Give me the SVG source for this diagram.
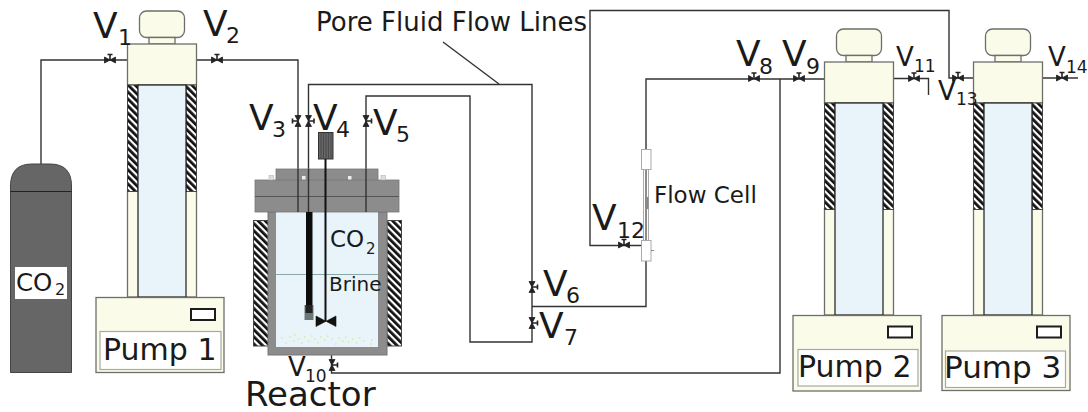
<svg xmlns="http://www.w3.org/2000/svg" xmlns:xlink="http://www.w3.org/1999/xlink" width="1088" height="412" viewBox="0 0 1088 412">
<style>
text{font-family:"DejaVu Sans",Verdana,sans-serif;fill:#1a1a1a}
.b{font-size:36px}.s{font-size:22px}.b2{font-size:26px}.s2{font-size:17px}
.line{fill:none;stroke:#333;stroke-width:1.4}
.cream{fill:#fafbe9;stroke:#6e6e6a;stroke-width:1.3}
.blue{fill:#e8f4fa;stroke:#1c1c1c;stroke-width:1.2}
.hatch{fill:url(#h);stroke:#444;stroke-width:1}
.lab{fill:#fff;stroke:#a8a8a0;stroke-width:1.2}
.disp{fill:#fff;stroke:#1c1c1c;stroke-width:2}
</style>
<defs>
<pattern id="h" width="5" height="5" patternUnits="userSpaceOnUse" patternTransform="rotate(-45)">
<rect width="5" height="5" fill="#fff"/><rect width="2.800" height="5" fill="#111"/>
</pattern>
<g id="valve"><path d="M-5.500 -3V3L5.500 -3V3Z" fill="#222" stroke="#222" stroke-width=".8"/><path d="M0 0V-5.500M-2.500 -5.500H2.500" fill="none" stroke="#222" stroke-width="1.600"/></g>
<g id="pump">
<rect class="cream" x="12" y="-33" width="45" height="26.500" rx="7"/>
<rect class="cream" x="21.500" y="-6.500" width="26" height="6.500"/>
<rect class="cream" x="0" y="0" width="69" height="41"/>
<rect class="cream" x="0" y="147" width="69" height="106"/>
<rect class="hatch" x="0" y="41" width="10.500" height="106.500"/>
<rect class="hatch" x="58.500" y="41" width="10.500" height="106.500"/>
<rect class="blue" x="10.500" y="41" width="48" height="212"/>
</g>
</defs>

<g id="connectors">
<path class="line" d="M41 164V60H127.500"/>
<path class="line" d="M196.500 60H298V212"/>
<path class="line" d="M308.500 212V84.500H532V342H470V96H366V212"/>
<path class="line" d="M443 42L499 84"/>
<path class="line" d="M532 306.500H646V79H824.500"/>
<path class="line" d="M780 79V373H331.500V355"/>
<path class="line" d="M651 245.500H590V10.500H949V78H973"/>
<path class="line" d="M893.500 78.500H928.500V95"/>
<path class="line" d="M1043 78H1078"/>
</g>

<g id="valves">
<use xlink:href="#valve" transform="translate(110 60)"/>
<use xlink:href="#valve" transform="translate(217 60)"/>
<use xlink:href="#valve" transform="translate(298 121) rotate(-90)"/>
<use xlink:href="#valve" transform="translate(308.500 121) rotate(90)"/>
<use xlink:href="#valve" transform="translate(366 121) rotate(90)"/>
<use xlink:href="#valve" transform="translate(532 287) rotate(90)"/>
<use xlink:href="#valve" transform="translate(532 323) rotate(90)"/>
<use xlink:href="#valve" transform="translate(754 78.500)"/>
<use xlink:href="#valve" transform="translate(799 78.500)"/>
<use xlink:href="#valve" transform="translate(332 365) rotate(90)"/>
<use xlink:href="#valve" transform="translate(914 78.500)"/>
<use xlink:href="#valve" transform="translate(624 245)"/>
<use xlink:href="#valve" transform="translate(958 78)"/>
<use xlink:href="#valve" transform="translate(1062 78)"/>
</g>

<g id="cylinder">
<path d="M10.500 372.500V186Q10.500 164 32 164H50Q71.500 164 71.500 186V372.500Z" fill="#666" stroke="#444" stroke-width="1"/>
<path d="M10.500 191.500H71.500" stroke="#222" stroke-width="1.200"/>
<rect x="15" y="267" width="52" height="32" fill="#fff"/>
<text x="16" y="291" font-size="24.500">CO<tspan x="55" y="295" font-size="16">2</tspan></text>
</g>

<g id="pump1">
<use xlink:href="#pump" transform="translate(127.500 44)"/>
<rect class="cream" x="96" y="297.500" width="128" height="75"/>
<rect class="disp" x="191" y="309" width="24" height="11"/>
<rect class="lab" x="100" y="331.500" width="121" height="38"/>
<text x="103" y="360" font-size="30">Pump 1</text>
</g>

<g id="reactor">
<rect x="253.500" y="220.500" width="15" height="125.500" class="hatch"/>
<rect x="387" y="220.500" width="14.500" height="125.500" class="hatch"/>
<rect x="268" y="212" width="119" height="143" fill="#8c8c8c" stroke="#777"/>
<rect x="276" y="212" width="102" height="135" fill="#e8f4fa"/>
<path d="M276 274.500H378" stroke="#8aa8a8" stroke-width="1"/>
<rect x="276" y="169" width="102" height="12" fill="#8c8c8c" stroke="#777" stroke-width=".8"/>
<rect x="255" y="180" width="144" height="32" fill="#8c8c8c" stroke="#777" stroke-width=".8"/>
<path d="M255 196.500H399" stroke="#555" stroke-width="1"/>
<rect x="269" y="175.500" width="4.500" height="4.500" fill="#ddd" stroke="#aaa" stroke-width=".5"/>
<rect x="381" y="175.500" width="4.500" height="4.500" fill="#ddd" stroke="#aaa" stroke-width=".5"/>
<rect x="302" y="176" width="3.500" height="3.500" fill="#eee"/>
<rect x="348" y="176" width="3.500" height="3.500" fill="#eee"/>
<path d="M298 169V212M308.500 169V212M366 169V212" stroke="#333" stroke-width="1.400"/>
<rect x="306" y="212" width="6.500" height="93" fill="#0c0c0c"/>
<rect x="304.500" y="305" width="9" height="15" fill="#6c7878"/>
<rect x="305.500" y="305" width="7" height="8" fill="#222"/>
<rect x="318.500" y="132.500" width="14.500" height="26.500" fill="#666" stroke="#333" stroke-width="1"/>
<path d="M321 133V159M323.500 133V159M326 133V159M328.500 133V159M331 133V159" stroke="#444" stroke-width=".8"/>
<path d="M325.500 159V321" stroke="#111" stroke-width="2"/>
<path d="M316 316V326.500L336 316V326.500Z" fill="#111" stroke="#111" stroke-width=".6"/>
<path d="M281 338h1.500M285 343h1.500M289 337h1.500M293 341h1.500M294 335h1.500M298 339h1.500M301 343h1.500M304 337h1.500M308 341h1.500M311 336h1.500M314 339h1.500M317 343h1.500M320 337h1.500M324 340h1.500M327 336h1.500M331 339h1.500M335 344h1.500M338 338h1.500M342 341h1.500M345 337h1.500M348 342h1.500M352 339h1.500M356 343h1.500M359 338h1.500M363 341h1.500M371 340h1.500M370 344h1.500" stroke="#d5e070" stroke-width="1.200"/>
<text x="330" y="247" font-size="23">CO<tspan x="366" y="254" font-size="15">2</tspan></text>
<text x="329" y="291" font-size="20">Brine</text>
<text x="245" y="406" font-size="34">Reactor</text>
</g>

<g id="flow-cell">
<path d="M643.500 169V240M646 169V240M648.500 169V240" stroke="#aaa" stroke-width="1"/>
<rect x="645" y="197" width="3.500" height="12" fill="#888"/>
<rect x="641.500" y="149.500" width="9.500" height="20" fill="#fff" stroke="#aaa"/>
<rect x="641.500" y="240.500" width="9.500" height="20.500" fill="#fff" stroke="#aaa"/>
<path d="M651 250.500H654" stroke="#888"/>
<text x="654" y="203" font-size="23">Flow Cell</text>
</g>

<g id="pump2">
<use xlink:href="#pump" transform="translate(824.500 62)"/>
<rect class="cream" x="793" y="315.500" width="128" height="75.500"/>
<rect class="disp" x="888" y="326.500" width="24" height="11"/>
<rect class="lab" x="798" y="349.500" width="120" height="36.500"/>
<text x="798" y="377" font-size="30">Pump 2</text>
</g>

<g id="pump3">
<use xlink:href="#pump" transform="translate(973.500 62)"/>
<rect class="cream" x="942" y="315.500" width="128" height="75"/>
<rect class="disp" x="1037" y="326.500" width="24" height="11"/>
<rect class="lab" x="945.500" y="351" width="120" height="36.500"/>
<text x="944" y="378" font-size="31">Pump 3</text>
</g>

<g id="labels">
<text class="b" x="93" y="38">V<tspan class="s" x="118" y="45">1</tspan></text>
<text class="b" x="203" y="36">V<tspan class="s" x="226" y="43">2</tspan></text>
<text class="b" x="249" y="130">V<tspan class="s" x="272" y="137">3</tspan></text>
<text class="b" x="313" y="130">V<tspan class="s" x="336" y="137">4</tspan></text>
<text class="b" x="373" y="135">V<tspan class="s" x="396" y="142">5</tspan></text>
<text class="b" x="543" y="296">V<tspan class="s" x="566" y="303">6</tspan></text>
<text class="b" x="539" y="338">V<tspan class="s" x="564" y="345">7</tspan></text>
<text class="b" x="736" y="66">V<tspan class="s" x="759" y="74">8</tspan></text>
<text class="b" x="782" y="66">V<tspan class="s" x="806" y="74">9</tspan></text>
<text class="b2" x="288" y="376">V<tspan class="s2" x="305" y="382">10</tspan></text>
<text class="b2" x="896" y="66">V<tspan class="s2" x="914" y="72">11</tspan></text>
<text class="b" x="592" y="230">V<tspan class="s" x="617" y="238">12</tspan></text>
<text class="b2" x="938" y="100">V<tspan class="s2" x="956" y="105">13</tspan></text>
<text class="b2" x="1048" y="66">V<tspan class="s2" x="1066" y="73">14</tspan></text>
<text x="316" y="31" font-size="26">Pore Fluid Flow Lines</text>
</g>
</svg>
